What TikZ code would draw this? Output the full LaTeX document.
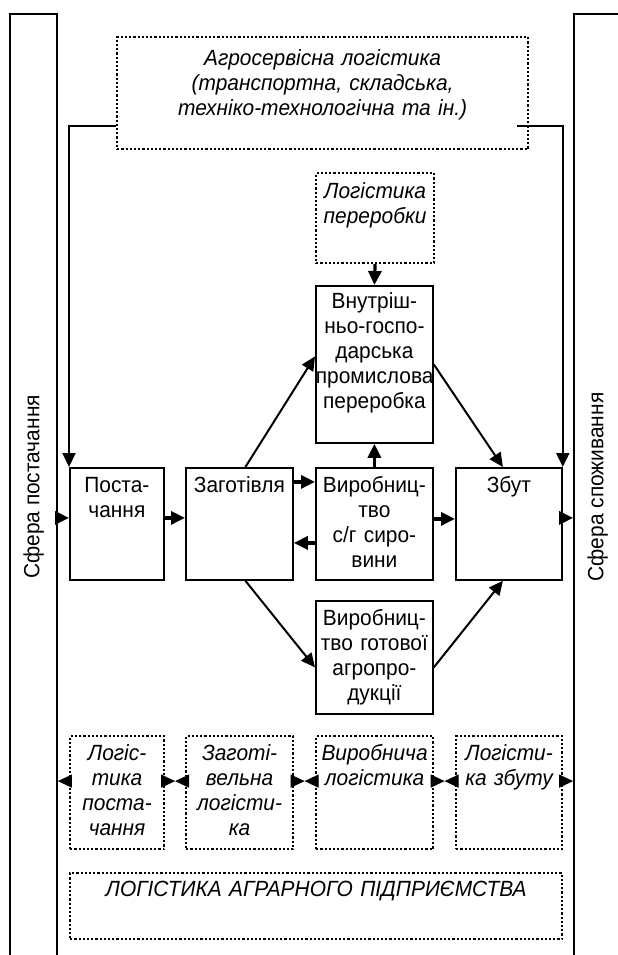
\documentclass[tikz,border=0pt]{standalone}
\usepackage{fontspec}
\setmainfont[FakeStretch=0.95]{Liberation Sans}
\usetikzlibrary{arrows.meta,calc}

\begin{document}
\begin{tikzpicture}[
    x=0.5pt, y=-0.5pt,
    font=\fontsize{11pt}{12.5pt}\selectfont,
    unit/.style={draw, line width=0.9pt, inner sep=0pt, anchor=north west, align=center},
    logist/.style={unit, line width=1.1pt, dash pattern=on 1.1pt off 1pt, font=\fontsize{11pt}{12.5pt}\selectfont\itshape},
    toprow/.style={text height=12.5pt, text depth=43.5pt},
    lowrow/.style={text height=12pt, text depth=44.5pt},
    sphere/.style={draw, line width=0.9pt, rotate=90, minimum width=473pt, minimum height=23.5pt, inner sep=0pt},
    flow/.style={-{Triangle[length=7pt, width=6.5pt]}, line width=1pt},
    push/.style={-{Triangle[length=7pt, width=6.5pt]}, line width=1.6pt}
    ]
    \useasboundingbox (0,0) rectangle (617,955);

    % spheres on both sides
    \node[sphere, text depth=2pt] (supply) at (33.5,487) {Сфера постачання};
    \node[sphere, text depth=2pt] (consume) at (597.5,487) {Сфера споживання};

    % service logistics
    \node[logist, text width=205.5pt, text height=14pt, text depth=42pt] (agro) at (116,36)
        {Агросервісна логістика\\(транспортна, складська,\\техніко-технологічна та ін.)};
    \node[logist, text width=59pt, text height=12.5pt, text depth=32.5pt] (lper) at (315,172)
        {Логістика\\переробки};

    % enterprise units
    \node[unit, text width=58.5pt, text height=11.5pt, text depth=67pt] (vnut) at (315,285)
        {Внутріш-\\ньо-госпо-\\дарська\\промислова\\переробка};
    \node[unit, toprow, text width=47pt] (post) at (69,467) {Поста-\\чання};
    \node[unit, toprow, text width=53.5pt] (zag) at (185,467) {Заготівля};
    \node[unit, toprow, text width=58.5pt] (vsyr) at (315,467) {Виробниц-\\тво\\с/г сиро-\\вини};
    \node[unit, toprow, text width=53pt] (zbut) at (455,467) {Збут};
    \node[unit, text width=58.5pt, text height=12.5pt, text depth=44pt] (vgot) at (315,600)
        {Виробниц-\\тво готової\\агропро-\\дукції};

    % logistics of the stages
    \node[logist, lowrow, text width=47pt] (lpost) at (69,735) {Логіс-\\тика\\поста-\\чання};
    \node[logist, lowrow, text width=53.5pt] (lzag) at (185,735) {Заготі-\\вельна\\логісти-\\ка};
    \node[logist, lowrow, text width=58.5pt] (lvyr) at (315,735) {Виробнича\\логістика};
    \node[logist, lowrow, text width=53pt] (lzbut) at (455,735) {Логісти-\\ка збуту};
    \node[logist, text width=246pt, text height=11.5pt, text depth=21.5pt] (lap) at (69,872)
        {ЛОГІСТИКА АГРАРНОГО ПІДПРИЄМСТВА};

    % service connectors
    \draw[flow] ([yshift=-16.5pt]agro.west) -| (post.north west);
    \draw[flow] ($(agro.east)+(-6pt,-16.5pt)$) -| (zbut.north east);
    \draw[push] (lper.south) -- (vnut.north);

    % material flow
    \draw[push] ($(supply.south |- post.west)+(0pt,3pt)$) -- ([yshift=3pt]post.west);
    \draw[push] ([yshift=3pt]post.east) -- ([yshift=3pt]zag.west);
    \draw[push] ([yshift=21pt]zag.east) -- ([yshift=21pt]vsyr.west);
    \draw[push] ([yshift=-9.5pt]vsyr.west) -- ([yshift=-9.5pt]zag.east);
    \draw[push] ([yshift=2.5pt]vsyr.east) -- ([yshift=2.5pt]zbut.west);
    \draw[push] (vsyr.north) -- (vnut.south);
    \draw[push] ([yshift=3pt]zbut.east) -- ($(consume.north |- zbut.east)+(0pt,3pt)$);
    \draw[flow] ([xshift=3pt]zag.north) -- ([yshift=4pt]vnut.west);
    \draw[flow] (vnut.east) -- ([xshift=-3pt]zbut.north);
    \draw[flow] ([xshift=3pt]zag.south) -- ([yshift=-5pt]vgot.west);
    \draw[flow] ([yshift=-5pt]vgot.east) -- ([xshift=-3pt]zbut.south);

    % links between logistics
    \draw[flow, line width=0.6pt] ([yshift=5.75pt]lpost.west) -- ($(supply.south |- lpost.west)+(0pt,5.75pt)$);
    \foreach \a/\b in {lpost/lzag, lzag/lvyr, lvyr/lzbut} {
        \coordinate (\a-mid) at ($([yshift=5.75pt]\a.east)!0.5!([yshift=5.75pt]\b.west)$);
        \draw[flow, line width=0.6pt] ([yshift=5.75pt]\a.east) -- (\a-mid);
        \draw[flow, line width=0.6pt] ([yshift=5.75pt]\b.west) -- (\a-mid);
    }
    \draw[flow, line width=0.6pt] ([yshift=5.75pt]lzbut.east) -- ($(consume.north |- lzbut.east)+(0pt,5.75pt)$);
\end{tikzpicture}
\end{document}
